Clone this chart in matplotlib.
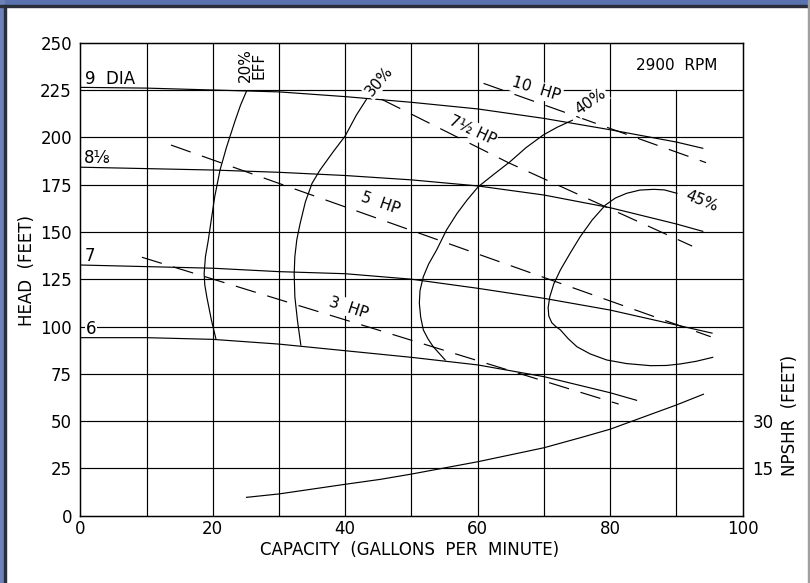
import matplotlib
matplotlib.use("Agg")
import matplotlib.pyplot as plt
from matplotlib.patches import Rectangle

# head-capacity curves for each impeller diameter (gpm, feet)
dia_9_q = [0, 10, 20, 30, 40, 50, 60, 70, 80, 90, 94]
dia_9_h = [226.4, 226, 225, 224, 221.5, 218.5, 215, 210, 204, 197.5, 194.2]
dia_8_q = [0, 20, 30, 40, 50, 60, 70, 80, 90, 94]
dia_8_h = [184.2, 182.7, 181.5, 179.8, 177.5, 174.3, 169.5, 162.8, 154.2, 150.3]
dia_7_q = [0, 20, 30, 40, 50, 60, 70, 80, 90, 95.4]
dia_7_h = [132.5, 130.8, 129, 127.9, 125, 120.2, 114.9, 108.7, 100.8, 96.5]
dia_6_q = [0, 10, 20, 30, 40, 50, 60, 70, 80, 84]
dia_6_h = [94.1, 94.1, 93.2, 90.7, 87.2, 83.7, 79.7, 73.5, 65, 61]

# efficiency curves
eff_20_q = [25.1, 24.2, 23.4, 22.1, 21.1, 20.3, 19.7, 19.3, 18.9, 18.7, 18.8, 19.1, 19.8, 20.5]
eff_20_h = [224.4, 217, 209, 195, 182.7, 168.6, 154.5, 145, 137, 128, 122, 115.7, 103.4, 93.2]
eff_30_q = [43.2, 41.7, 40, 38.2, 36.2, 35, 34, 33.2, 32.7, 32.4, 32.3, 32.4, 32.8, 33.3]
eff_30_h = [220, 211.8, 200.7, 192.4, 182.7, 175.7, 166, 154.5, 146, 137, 128, 115.7, 103, 90.2]
eff_40_q = [74.3, 72, 69.9, 67.3, 64.9, 62.4, 60.1, 58.4, 56.9, 55.3, 53.8, 52.6, 51.8, 51.3,
            51.2, 51.4, 51.8, 52.5, 53.3, 55.1]
eff_40_h = [209, 205.3, 201.2, 194.5, 187.1, 180.3, 173.9, 166.8, 159.8, 151, 140.4, 133, 126.3, 119,
            112.3, 105, 98.2, 93.5, 89.3, 82.3]
eff_45_q = [90.1, 88.2, 86.6, 84.5, 82.5, 80.8, 79.3, 77.3, 75.5, 74, 72.5, 71.5, 70.9, 70.65,
            70.75, 71.2, 71.8, 72.5, 73.7, 75, 77, 79.5, 82.5, 86.1, 88.5, 90.6, 93, 95.5]
eff_45_h = [170.4, 172.2, 172.5, 172.1, 170.4, 167.9, 164.2, 156.3, 147.5, 138.9, 129.9, 122.5, 115.7,
            110, 105.5, 102, 100, 98.2, 93.5, 89.3, 85.5, 82.3, 80.4, 79.3, 79.4, 80.2, 81.6, 83.7]

# horsepower lines
hp_3_q = [9.3, 81.3]
hp_3_h = [136.6, 59.0]
hp_5_q = [13.7, 95.2]
hp_5_h = [195.9, 94.6]
hp_7_q = [45.5, 64.7, 92.4]
hp_7_h = [220.1, 186.5, 142.5]
hp_10_q = [60.9, 94.5]
hp_10_h = [228.5, 186.6]

# NPSHR curve (plotted on the head scale)
npshr_q = [25.1, 30, 40, 45.3, 50, 60, 70, 75.5, 80, 90, 94.1]
npshr_h = [9.7, 11.5, 16.6, 19.2, 22, 28.5, 35.9, 41.2, 45.7, 58.5, 64.2]

x_ticks = [0, 20, 40, 60, 80, 100]
y_ticks = [0, 25, 50, 75, 100, 125, 150, 175, 200, 225, 250]
npshr_ticks = [15, 30]

plt.rcParams["font.family"] = ["DejaVu Sans"]
plt.rcParams["lines.scale_dashes"] = False

fig = plt.figure(figsize=(8.1, 5.83), dpi=100)
fig.patch.set_facecolor("white")

# window-like border
fig.patches.append(Rectangle((0, 1 - 5 / 583), 1, 5 / 583, transform=fig.transFigure,
                             color="#5a72ad", zorder=0))
fig.patches.append(Rectangle((0, 0), 4 / 810, 1, transform=fig.transFigure,
                             color="#6c82b8", zorder=0))
fig.patches.append(Rectangle((4 / 810, 0), 1.5 / 810, 1 - 5 / 583, transform=fig.transFigure,
                             color="#2a2d3a", zorder=0))
fig.patches.append(Rectangle((0, 1 - 6.5 / 583), 1, 1.5 / 583, transform=fig.transFigure,
                             color="#2a2d3a", zorder=0))
fig.patches.append(Rectangle((807.5 / 810, 0), 1.5 / 810, 1, transform=fig.transFigure,
                             color="#a0a0a0", zorder=0))

ax = fig.add_axes([80.3 / 810, 1 - 515.7 / 583, 662.2 / 810, 473 / 583])
ax.set_xlim(0, 100)
ax.set_ylim(0, 250)

# grid: x=90 line stops at 225 to leave the RPM box
for gx in range(10, 100, 10):
    top = 225 / 250 if gx == 90 else 1
    ax.axvline(gx, 0, top, color="black", lw=0.85, zorder=1)
for gy in y_ticks[1:-1]:
    ax.axhline(gy, color="black", lw=0.85, zorder=1)

lw = 0.85
for q, h in [(dia_9_q, dia_9_h), (dia_8_q, dia_8_h), (dia_7_q, dia_7_h), (dia_6_q, dia_6_h),
             (eff_20_q, eff_20_h), (eff_30_q, eff_30_h), (eff_40_q, eff_40_h), (eff_45_q, eff_45_h),
             (npshr_q, npshr_h)]:
    ax.plot(q, h, color="black", lw=lw, zorder=2)

for q, h in [(hp_3_q, hp_3_h), (hp_5_q, hp_5_h), (hp_7_q, hp_7_h), (hp_10_q, hp_10_h)]:
    ax.plot(q, h, color="black", lw=lw, dashes=(15, 8.6), zorder=2)

box = dict(facecolor="white", edgecolor="none", pad=1.0)
fs = 12
ax.text(0.7, 230.8, "9  DIA", fontsize=fs, ha="left", va="center")
ax.text(0.5, 189, "8⅛", fontsize=fs, ha="left", va="center")
ax.text(0.7, 137.5, "7", fontsize=fs, ha="left", va="center")
ax.text(0.8, 98.8, "6", fontsize=fs, ha="left", va="center",
        bbox=dict(facecolor="white", edgecolor="none", pad=0.5), zorder=1.5)
ax.text(25.9, 238.2, "20%\nEFF", fontsize=fs - 1, rotation=90, ha="center", va="center",
        linespacing=0.9)
ax.text(45.1, 229.7, "30%", fontsize=fs - 1, rotation=50, ha="center", va="center",
        bbox=box, zorder=4)
ax.text(77.1, 218.9, "40%", fontsize=fs - 1, rotation=35, ha="center", va="center",
        bbox=box, zorder=4)
ax.text(93.8, 166.3, "45%", fontsize=fs - 1, rotation=-22, ha="center", va="center",
        bbox=box, zorder=4)
ax.text(68.9, 225.3, "10  HP", fontsize=fs - 1, rotation=-17, ha="center", va="center",
        bbox=box, zorder=4)
ax.text(59.2, 203.9, "7½ HP", fontsize=fs - 1, rotation=-25, ha="center", va="center",
        bbox=box, zorder=4)
ax.text(45.3, 165.1, "5  HP", fontsize=fs - 1, rotation=-19, ha="center", va="center",
        bbox=box, zorder=4)
ax.text(40.5, 110, "3  HP", fontsize=fs - 1, rotation=-18, ha="center", va="center",
        bbox=box, zorder=4)
ax.text(90.1, 237.7, "2900  RPM", fontsize=fs - 1, ha="center", va="center")

ax.set_xticks(x_ticks)
ax.set_yticks(y_ticks)
ax.tick_params(axis="x", length=0, pad=3, labelsize=fs)
ax.tick_params(axis="y", length=0, pad=6, labelsize=fs)
for s in ax.spines.values():
    s.set_linewidth(1.0)

ax2 = ax.twinx()
ax2.set_ylim(0, 150)
ax2.set_yticks(npshr_ticks)
ax2.tick_params(axis="y", length=0, pad=7, labelsize=fs)

fig.text(27 / 810, 1 - 271 / 583, "HEAD  (FEET)", rotation=90, fontsize=fs,
         ha="center", va="center")
fig.text(410 / 810, 1 - 550 / 583, "CAPACITY  (GALLONS  PER  MINUTE)", fontsize=fs,
         ha="center", va="center")
fig.text(790 / 810, 1 - 415 / 583, "NPSHR  (FEET)", rotation=90, fontsize=fs,
         ha="center", va="center")

fig.savefig("out.png", dpi=100)
